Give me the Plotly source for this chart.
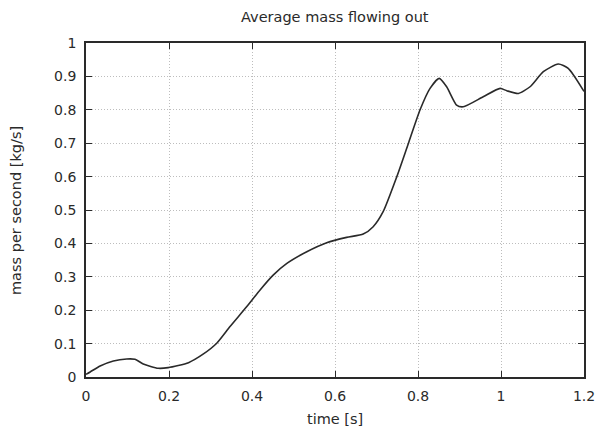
import plotly.graph_objects as go

time_s = [0.0, 0.01, 0.034, 0.066, 0.098, 0.118, 0.138, 0.174, 0.198, 0.247, 0.283,
          0.315, 0.347, 0.387, 0.419, 0.451, 0.484, 0.532, 0.58, 0.628, 0.668,
          0.692, 0.716, 0.749, 0.777, 0.805, 0.829, 0.851, 0.869, 0.893, 0.909,
          0.957, 0.998, 1.014, 1.042, 1.07, 1.102, 1.138, 1.162, 1.2]
mass_rate = [0.008, 0.015, 0.033, 0.048, 0.054, 0.053, 0.039, 0.026, 0.028, 0.043, 0.069,
             0.101, 0.151, 0.21, 0.26, 0.305, 0.34, 0.375, 0.402, 0.418, 0.428,
             0.45, 0.495, 0.6, 0.70, 0.80, 0.864, 0.894, 0.869, 0.814, 0.809,
             0.839, 0.864, 0.857, 0.849, 0.869, 0.914, 0.937, 0.924, 0.855]

x_ticks = [0, 0.2, 0.4, 0.6, 0.8, 1.0, 1.2]
x_labels = ["0", "0.2", "0.4", "0.6", "0.8", "1", "1.2"]
y_ticks = [0, 0.1, 0.2, 0.3, 0.4, 0.5, 0.6, 0.7, 0.8, 0.9, 1.0]
y_labels = ["0", "0.1", "0.2", "0.3", "0.4", "0.5", "0.6", "0.7", "0.8", "0.9", "1"]

font = dict(family="DejaVu Sans, sans-serif", size=14.5, color="#2a2a2a")
tick_font = dict(family="DejaVu Sans, sans-serif", size=14, color="#2a2a2a")

L, R, T, B = 86, 16, 43, 59
W, H = 600, 436
pw, ph = W - L - R, H - T - B

fig = go.Figure()
fig.add_trace(go.Scatter(x=time_s, y=mass_rate, mode="lines",
                         line=dict(color="#2a2a2a", width=1.6, shape="spline", smoothing=0.6),
                         showlegend=False, hoverinfo="skip"))

axis_common = dict(showline=True, linecolor="#2a2a2a", linewidth=1.8, mirror="ticks",
                   ticks="inside", ticklen=6, tickcolor="#2a2a2a", tickwidth=1,
                   showgrid=True, gridcolor="#bdbdbd", gridwidth=1, griddash="1px,2px",
                   zeroline=False, tickfont=tick_font, automargin=False)

fig.update_layout(
    width=W, height=H,
    margin=dict(l=L, r=R, t=T, b=B),
    paper_bgcolor="white", plot_bgcolor="white",
    font=font,
    xaxis=dict(range=[0, 1.2], tickvals=x_ticks, ticktext=x_labels,
               ticklabelstandoff=5, **axis_common),
    yaxis=dict(range=[0, 1.0], tickvals=y_ticks, ticktext=y_labels,
               ticklabelstandoff=5, **axis_common),
    annotations=[
        dict(text="Average mass flowing out", xref="paper", yref="paper",
             x=0.5, y=1 + (T - 17) / ph, xanchor="center", yanchor="middle",
             showarrow=False, font=font),
        dict(text="time [s]", xref="paper", yref="paper",
             x=0.5, y=-(419 - (H - B)) / ph, xanchor="center", yanchor="middle",
             showarrow=False, font=font),
        dict(text="mass per second [kg/s]", xref="paper", yref="paper",
             x=-(L - 16) / pw, y=(H - B - 211) / ph, xanchor="center", yanchor="middle",
             textangle=-90, showarrow=False, font=font),
    ],
)

fig.write_html("out.html", config={"displayModeBar": False})

with open("out.html", "r", encoding="utf-8") as f:
    html = f.read()
html = html.replace("<head>", "<head><style>html,body{margin:0;padding:0;overflow:hidden;}</style>", 1)
with open("out.html", "w", encoding="utf-8") as f:
    f.write(html)
